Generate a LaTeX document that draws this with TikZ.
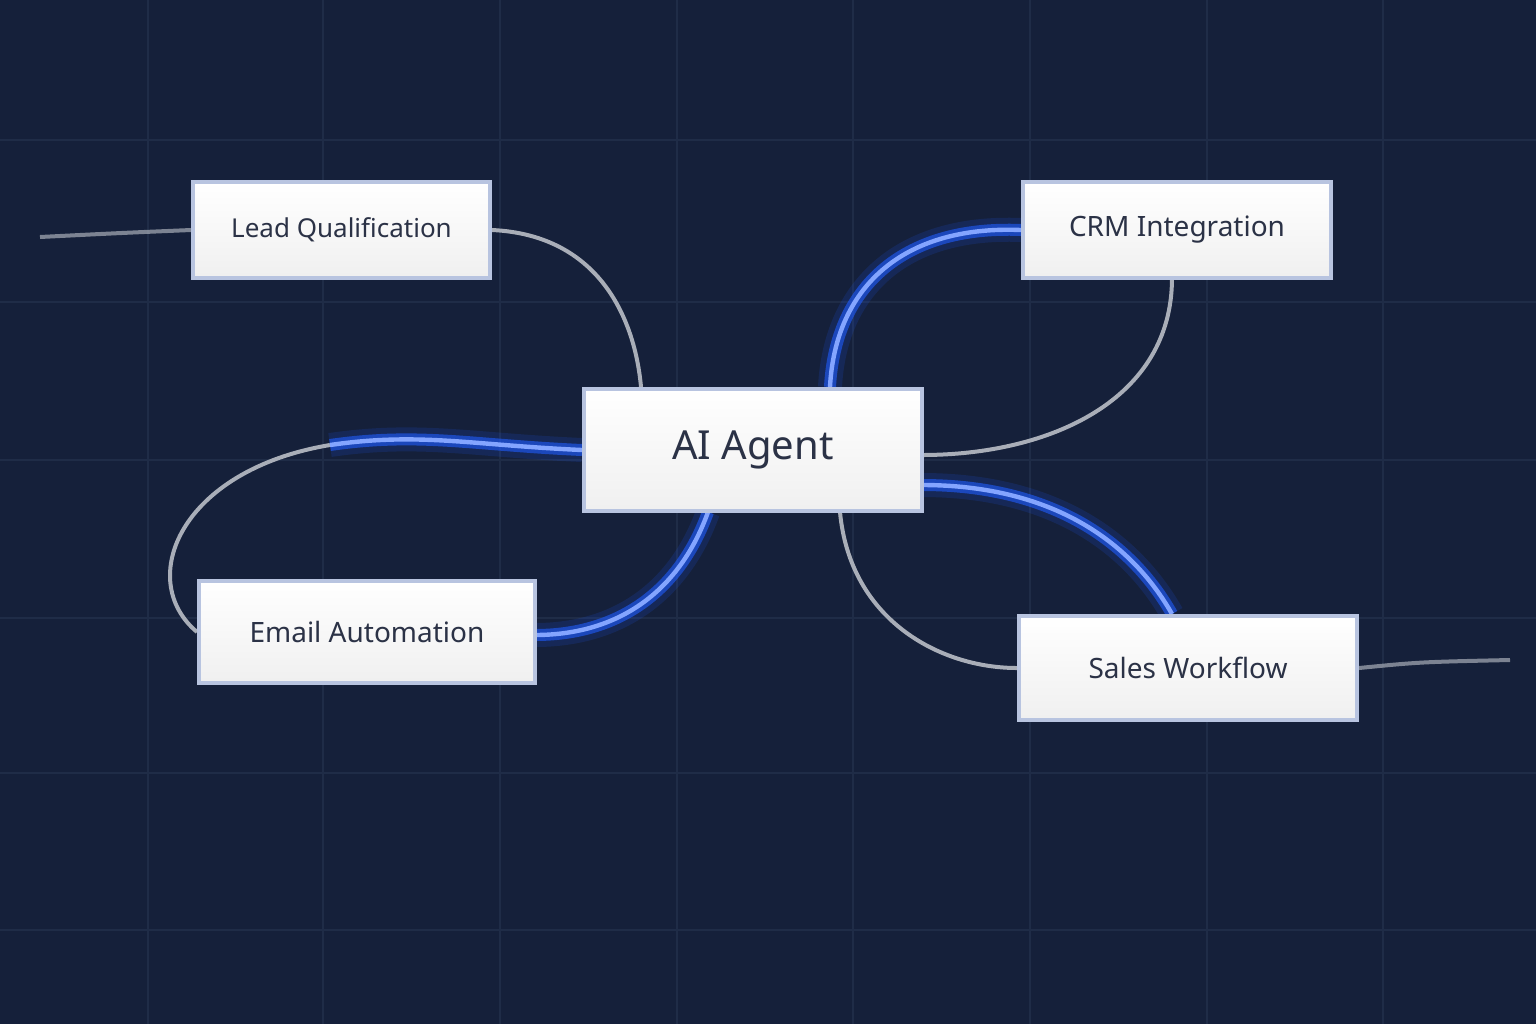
\documentclass[tikz,border=0pt]{standalone}
\usepackage{fontspec}
\setmainfont{Noto Sans}
\pgfdeclarelayer{background}
\pgfdeclarelayer{back2}
\pgfsetlayers{back2,background,main}
\begin{document}
\begin{tikzpicture}[x=0.5pt,y=-0.5pt]
\definecolor{bg}{HTML}{15203A}
\definecolor{gridc}{HTML}{1F2C47}
\definecolor{txt}{HTML}{2B3246}
\definecolor{edgec}{HTML}{B8C4E0}
\definecolor{glow}{HTML}{1F5CFF}
\definecolor{wire}{HTML}{A9AEB8}
\tikzset{
 box/.style={draw=edgec,line width=2pt,top color=white,bottom color=gray!12,text=txt,inner sep=0,anchor=north west,align=center},
 graywire/.style={draw=wire,line width=2pt},
 bluewire/.style={draw=glow!55!white,line width=2.2pt},
 bluehalo/.style={draw=glow,line width=6pt,opacity=0.6},
 bluehalo2/.style={draw=glow,line width=12pt,opacity=0.15},
}
\useasboundingbox (0,0) rectangle (1536,1024);

\node[box,minimum width=148.5pt,minimum height=48pt,font=\fontsize{13}{15}\selectfont] (lead) at (191,180) {Lead Qualification};
\node[box,minimum width=154pt,minimum height=48pt,font=\fontsize{14}{16}\selectfont] (crm) at (1021,180) {CRM Integration};
\node[box,minimum width=169pt,minimum height=61pt,font=\fontsize{20}{24}\selectfont] (ai) at (582,387) {AI Agent};
\node[box,minimum width=168pt,minimum height=51pt,font=\fontsize{14}{16}\selectfont] (email) at (197,579) {Email Automation};
\node[box,minimum width=169pt,minimum height=52pt,font=\fontsize{14}{16}\selectfont] (sales) at (1017,614) {Sales Workflow};

\coordinate (lin) at (40,237);
\coordinate (rout) at (1510,660);
\coordinate (mid) at (330,445);

\begin{pgfonlayer}{back2}
\fill[bg] (0,0) rectangle (1536,1024);
\foreach \x in {148,323,500,677,853,1030,1207,1383} \draw[gridc,line width=0.8pt] (\x,0) -- (\x,1024);
\foreach \y in {140,302,460,618,773,930} \draw[gridc,line width=0.8pt] (0,\y) -- (1536,\y);
\end{pgfonlayer}
\begin{pgfonlayer}{background}
\draw[graywire,opacity=0.7] (lin) .. controls (120,233) .. (lead.west);
\draw[graywire] (lead.east) .. controls (600,235) and (635,320) .. (641,387);
\draw[graywire] (1172,278) .. controls (1172,400) and (1050,455) .. (922,455);
\draw[graywire] (840,512) .. controls (850,620) and (940,668) .. (sales.west);
\draw[graywire,opacity=0.7] (sales.east) .. controls (1420,662) .. (rout);
\draw[graywire] (mid) .. controls (180,470) and (135,580) .. (197,632);
\foreach \s in {bluehalo2,bluehalo,bluewire}{
\draw[\s] (crm.west) .. controls (900,225) and (835,290) .. (830,387);
\draw[\s] (ai.west) .. controls (470,445) and (420,432) .. (mid);
\draw[\s] (708,512) .. controls (680,590) and (620,635) .. (535,635);
\draw[\s] (922,485) .. controls (1050,485) and (1130,540) .. (1172,614);
}
\end{pgfonlayer}
\end{tikzpicture}
\end{document}
